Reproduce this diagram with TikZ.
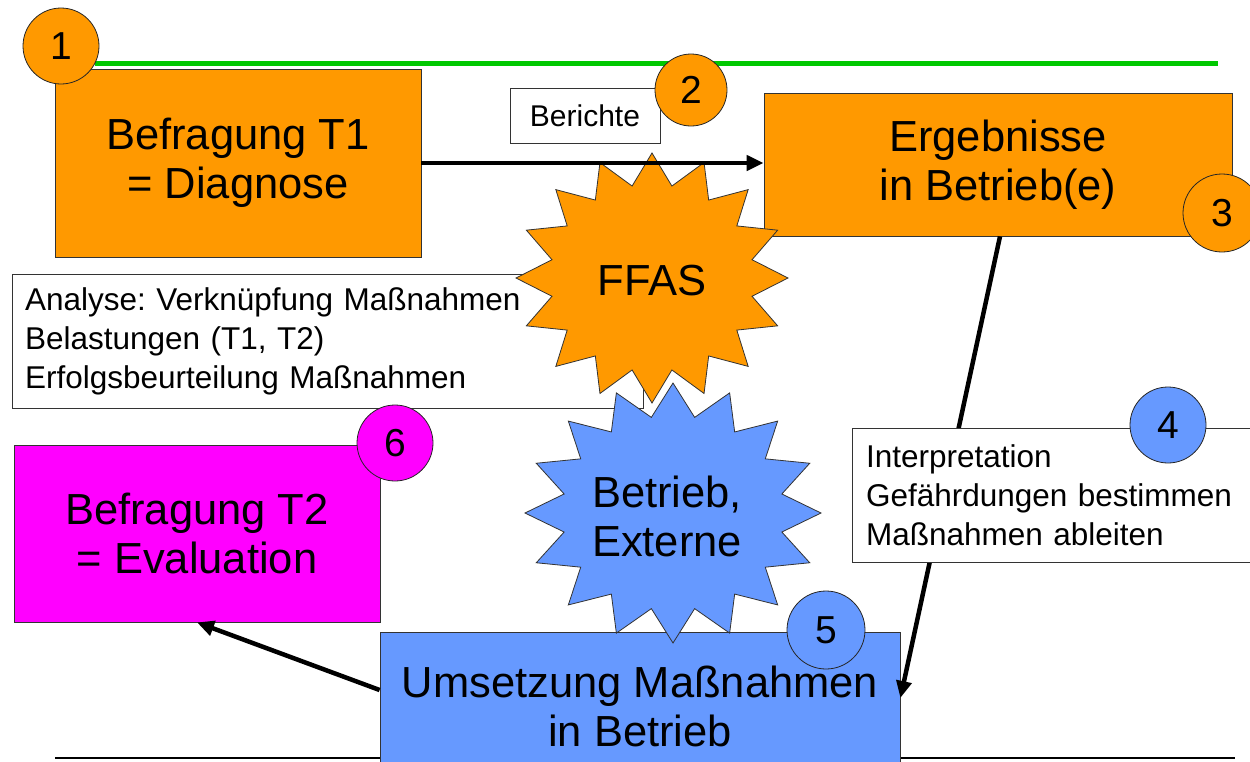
\documentclass[tikz,border=0pt]{standalone}
\usepackage{fontspec}
\setmainfont{Liberation Sans}
\usetikzlibrary{arrows.meta}
\definecolor{orng}{RGB}{255,153,0}
\definecolor{blu}{RGB}{102,153,255}
\definecolor{mgn}{RGB}{255,0,255}
\definecolor{grn}{RGB}{0,200,0}
\newcommand{\bigtxt}{\fontsize{43.5}{49}\selectfont}
\newcommand{\smalltxt}{\fontsize{31.5}{39}\selectfont}
\newcommand{\numtxt}{\fontsize{39}{39}\selectfont}
\frenchspacing
\begin{document}
\begin{tikzpicture}[x=1pt,y=-1pt,
  box/.style={draw=black!80, line width=0.8pt, rectangle, inner sep=0pt, align=center, font=\bigtxt},
  txtbox/.style={draw=black!80, line width=0.8pt, fill=white, rectangle, inner ysep=0pt, align=left, font=\smalltxt},
  num/.style={draw=black!85, line width=0.8pt, circle, inner sep=0pt, minimum size=76pt, font=\numtxt},
  starline/.style={draw=black!80, line width=0.8pt},
  conn/.style={line width=4.5pt, -{Triangle[length=17pt,width=15pt]}}]
\clip (0,0) rectangle (1250,761);
\fill[white] (0,0) rectangle (1250,761);
% rules
\draw[grn, line width=5pt] (95,63) -- (1218,63);
\draw[black, line width=2.5pt] (55,758) -- (1235,758);
% step 1
\node[box, fill=orng, minimum width=366pt, minimum height=188pt] (box1) at (238,163) {Befragung T1\\= Diagnose};
\node[num, fill=orng] (c1) at (61,46) {1};
% Berichte
\node[box, fill=white, font=\fontsize{30}{30}\selectfont, minimum width=150pt, minimum height=55pt] (ber) at (585,115.5) {Berichte};
\node[num, fill=orng, minimum size=72pt] (c2) at (691,90) {2};
% step 3
\node[box, fill=orng, minimum width=468pt, minimum height=143pt] (erg) at (998,164.5) {Ergebnisse\\in Betrieb(e)};
\node[num, fill=orng, minimum size=78pt] (c3) at (1222,213) {3};
% step 5 box
\node[box, fill=blu, minimum width=520pt, minimum height=148pt] (ums) at (640,706) {Umsetzung Ma\ss nahmen\\in Betrieb};
% Analyse box
\node[txtbox, minimum width=631pt, minimum height=134pt, text width=605pt, inner xsep=13pt] (ana) at (327.5,341)
  {Analyse: Verkn\"upfung Ma\ss nahmen\\Belastungen (T1, T2)\\Erfolgsbeurteilung Ma\ss nahmen};
% FFAS star
\filldraw[fill=orng, starline] (652,153) \foreach \k in {1,...,31}{ -- ({652+(1-0.25*mod(\k,2))*136*sin(11.25*\k)},{278-(1-0.25*mod(\k,2))*125*cos(11.25*\k)}) } -- cycle;
\node[font=\bigtxt] (ffas) at (652,281) {FFAS};
% Betrieb star
\filldraw[fill=blu, starline] (673,383) \foreach \k in {1,...,31}{ -- ({673+(1-0.25*mod(\k,2))*148*sin(11.25*\k)},{513-(1-0.25*mod(\k,2))*130*cos(11.25*\k)}) } -- cycle;
\node[font=\bigtxt, align=center] (betr) at (667,516) {Betrieb,\\Externe};
% connectors
\draw[conn] (box1.east) -- (box1.east -| erg.west);
\draw[conn] ([xshift=2pt]erg.south) -- ([yshift=8pt]ums.east);
% step 4
\node[txtbox, minimum width=418pt, minimum height=134pt, text width=390pt, inner xsep=14pt] (interp) at (1061,495)
  {Interpretation\\Gef\"ahrdungen bestimmen\\Ma\ss nahmen ableiten};
\node[num, fill=blu] (c4) at (1168,425) {4};
% step 6
\node[box, fill=mgn, minimum width=366pt, minimum height=177pt] (mag) at (197,533.5) {Befragung T2\\= Evaluation};
\node[num, fill=mgn] (c6) at (395,443) {6};
% circle 5
\node[num, fill=blu, minimum size=78pt] (c5) at (826,630) {5};
\draw[conn] ([yshift=16pt]ums.west) -- (mag.south);
\end{tikzpicture}
\end{document}
